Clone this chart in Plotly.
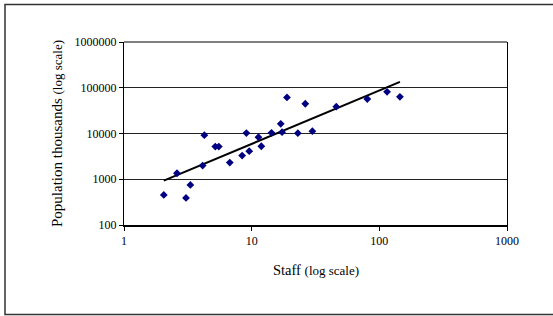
import numpy as np
import plotly.graph_objects as go

# Data (staff, population in thousands)
staff = [2.05, 2.6, 3.06, 3.31, 4.13, 4.26, 5.19, 5.53, 6.74, 8.42, 9.09, 9.57,
         11.3, 11.9, 14.3, 16.9, 17.3, 18.9, 23.0, 26.3, 29.9, 46.0, 80.5, 115, 145]
population = [454, 1352, 390, 751, 1990, 9180, 5190, 5190, 2320, 3300, 10200, 4100,
              8320, 5270, 10360, 16250, 10700, 61400, 10170, 44700, 11250, 38600,
              56800, 81600, 63400]

x_ticks = [1, 10, 100, 1000]
y_ticks = [100, 1000, 10000, 100000, 1000000]

# Power trendline (least squares in log-log space), as the spreadsheet does
lx = np.log10(staff)
ly = np.log10(population)
slope, intercept = np.polyfit(lx, ly, 1)
tx = np.array([min(staff), max(staff)])
ty = 10 ** (intercept + slope * np.log10(tx))

serif = "Liberation Serif"

fig = go.Figure()
fig.add_trace(go.Scatter(
    x=tx, y=ty, mode="lines",
    line=dict(color="black", width=2),
    showlegend=False, hoverinfo="skip"))
fig.add_trace(go.Scatter(
    x=staff, y=population, mode="markers",
    marker=dict(symbol="diamond", size=6, color="#000080", line=dict(width=0)),
    showlegend=False))

fig.update_xaxes(
    type="log", range=[0, 3],
    tickvals=x_ticks, ticktext=[str(v) for v in x_ticks],
    showgrid=False, zeroline=False,
    showline=True, linecolor="black", linewidth=2,
    ticks="outside", ticklen=4, tickcolor="black", tickwidth=1,
    tickfont=dict(family=serif, size=12, color="black"))
fig.update_yaxes(
    type="log", range=[2, 6],
    tickvals=y_ticks, ticktext=[str(v) for v in y_ticks],
    showgrid=True, gridcolor="#222222", gridwidth=1, zeroline=False,
    showline=True, linecolor="black", linewidth=1, mirror=True,
    ticks="outside", ticklen=4, tickcolor="black", tickwidth=1,
    tickfont=dict(family=serif, size=12, color="black"))

fig.add_shape(type="line", xref="paper", yref="paper", x0=0, x1=1, y0=1, y1=1,
              line=dict(color="black", width=1))
# outer chart border
fig.add_shape(type="rect", xref="paper", yref="paper",
              x0=(5 - 124) / 383, x1=(556 - 124) / 383,
              y0=(225 - 314.5) / 183, y1=(225 - 4.5) / 183,
              line=dict(color="#333333", width=1.5), layer="below")

fig.add_annotation(
    text="Staff <span style='font-size:13px'>(log scale)</span>",
    xref="paper", yref="paper", x=0.5, y=(225 - 270) / 183,
    showarrow=False, font=dict(family=serif, size=14.5, color="black"),
    xanchor="center", yanchor="middle")
fig.add_annotation(
    text="Population thousands <span style='font-size:13px'>(log scale)</span>",
    xref="paper", yref="paper", x=(56.5 - 124) / 383, y=0.5, textangle=-90,
    showarrow=False, font=dict(family=serif, size=15, color="black"),
    xanchor="center", yanchor="middle")

fig.update_layout(
    width=553, height=316,
    margin=dict(l=124, r=46, t=42, b=91),
    paper_bgcolor="white", plot_bgcolor="white",
    showlegend=False)

fig.write_html("out.html", config={"displayModeBar": False},
               post_script="document.body.style.margin='0';")
